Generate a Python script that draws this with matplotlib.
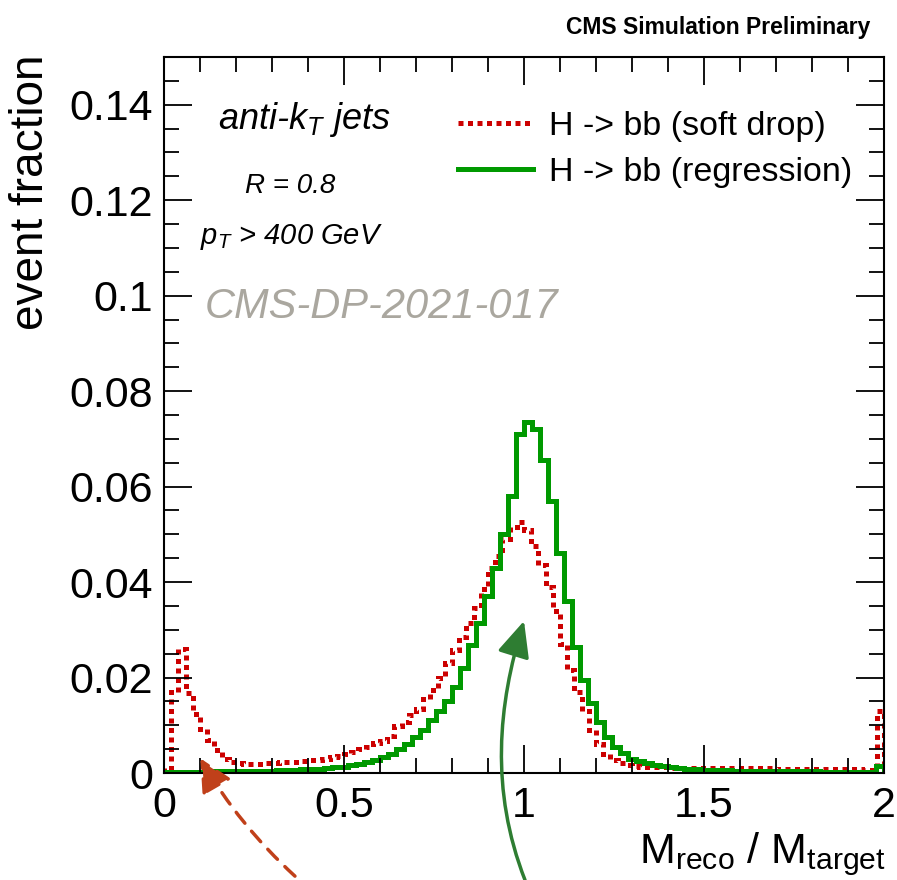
import numpy as np
import matplotlib
matplotlib.use("Agg")
from matplotlib import pyplot as plt
from matplotlib.ticker import MultipleLocator
from matplotlib.patches import FancyArrowPatch
from matplotlib.path import Path

plt.rcParams['font.family'] = ['Liberation Sans', 'DejaVu Sans']
plt.rcParams['mathtext.fontset'] = 'custom'
plt.rcParams['mathtext.rm'] = 'Liberation Sans'
plt.rcParams['mathtext.it'] = 'Liberation Sans:italic'

# soft drop mass, 100 bins over 0..2
sd_edges = np.linspace(0, 2, 101)
sd_frac = [0.0010, 0.0170, 0.0260, 0.0168, 0.0124, 0.0092, 0.0069, 0.0048, 0.0030, 0.0022,
           0.0020, 0.0019, 0.0019, 0.0019, 0.0020, 0.0021, 0.0022, 0.0023, 0.0024, 0.0025,
           0.0027, 0.0028, 0.0030, 0.0033, 0.0036, 0.0040, 0.0045, 0.0050, 0.0055, 0.0062,
           0.0068, 0.0078, 0.0098, 0.0107, 0.0122, 0.0135, 0.0155, 0.0174, 0.0200, 0.0230,
           0.0258, 0.0285, 0.0315, 0.0345, 0.0385, 0.0430, 0.0455, 0.0490, 0.0515, 0.0525,
           0.0510, 0.0475, 0.0435, 0.0390, 0.0340, 0.0270, 0.0215, 0.0170, 0.0130, 0.0090,
           0.0060, 0.0040, 0.0028, 0.0020, 0.0016, 0.0014, 0.0013, 0.0012, 0.0012, 0.0012,
           0.0011, 0.0011, 0.0011, 0.0011, 0.0010, 0.0010, 0.0010, 0.0010, 0.0010, 0.0010,
           0.0010, 0.0010, 0.0010, 0.0010, 0.0010, 0.0009, 0.0009, 0.0009, 0.0009, 0.0009,
           0.0009, 0.0009, 0.0009, 0.0008, 0.0008, 0.0008, 0.0008, 0.0007, 0.0006, 0.0130]

# regression mass, 90 bins over 0..2
reg_edges = np.linspace(0, 2, 91)
reg_frac = [0.0003, 0.0003, 0.0003, 0.0003, 0.0003, 0.0003, 0.0004, 0.0004, 0.0004, 0.0004,
            0.0004, 0.0005, 0.0005, 0.0005, 0.0006, 0.0006, 0.0007, 0.0008, 0.0008, 0.0009,
            0.0010, 0.0012, 0.0013, 0.0016, 0.0019, 0.0023, 0.0028, 0.0033, 0.0040, 0.0050,
            0.0060, 0.0075, 0.0090, 0.0110, 0.0130, 0.0150, 0.0180, 0.0220, 0.0268, 0.0314,
            0.0370, 0.0430, 0.0500, 0.0580, 0.0710, 0.0735, 0.0720, 0.0656, 0.0570, 0.0460,
            0.0360, 0.0265, 0.0195, 0.0147, 0.0107, 0.0075, 0.0055, 0.0042, 0.0030, 0.0025,
            0.0020, 0.0017, 0.0014, 0.0012, 0.0010, 0.0009, 0.0008, 0.0007, 0.0007, 0.0006,
            0.0006, 0.0005, 0.0005, 0.0005, 0.0005, 0.0004, 0.0004, 0.0004, 0.0004, 0.0004,
            0.0004, 0.0004, 0.0003, 0.0003, 0.0003, 0.0003, 0.0003, 0.0003, 0.0003, 0.0015]

x_ticks = [0, 0.5, 1, 1.5, 2]
x_labels = ['0', '0.5', '1', '1.5', '2']
y_ticks = [0, 0.02, 0.04, 0.06, 0.08, 0.1, 0.12, 0.14]
y_labels = ['0', '0.02', '0.04', '0.06', '0.08', '0.1', '0.12', '0.14']

red = '#cc0000'
green = '#009900'

W, H = 897, 880
fig = plt.figure(figsize=(W / 100, H / 100), dpi=100)
ax = fig.add_axes([164 / W, 1 - 773 / H, 720 / W, 716 / H])

ax.stairs(sd_frac, sd_edges, color=red, lw=3.6, ls=(0, (1.0, 0.9)), label='H -> bb (soft drop)')
ax.stairs(reg_frac, reg_edges, color=green, lw=3.6, label='H -> bb (regression)')

ax.set_xlim(0, 2)
ax.set_ylim(0, 0.15)
ax.set_xticks(x_ticks)
ax.set_xticklabels(x_labels)
ax.set_yticks(y_ticks)
ax.set_yticklabels(y_labels)
ax.xaxis.set_minor_locator(MultipleLocator(0.1))
ax.yaxis.set_minor_locator(MultipleLocator(0.005))
ax.tick_params(which='both', direction='in', top=True, right=True, width=1.3, labelsize=31)
ax.tick_params(which='major', length=20)
ax.tick_params(which='minor', length=11)
ax.tick_params(axis='x', pad=9)
ax.tick_params(axis='y', pad=8)
for s in ax.spines.values():
    s.set_linewidth(1.5)

fig.text(0.035, 0.938, 'event fraction', rotation=90, ha='center', va='top', fontsize=33)
fig.text(0.987, 0.002, r'M$_{\rm reco}$ / M$_{\rm target}$', ha='right', va='bottom', fontsize=31)
fig.text(0.97, 0.969, 'CMS Simulation Preliminary', ha='right', va='center', fontsize=16.5, fontweight='bold')

ax.text(0.075, 0.913, r'anti-k$_{T}$ jets', transform=ax.transAxes, fontsize=26, style='italic', va='center')
ax.text(0.112, 0.82, 'R = 0.8', transform=ax.transAxes, fontsize=20, style='italic', va='center')
ax.text(0.05, 0.748, r'p$_{T}$ > 400 GeV', transform=ax.transAxes, fontsize=21, style='italic', va='center')
ax.text(0.056, 0.651, 'CMS-DP-2021-017', transform=ax.transAxes, fontsize=30, style='italic',
        color='#aaa79f', va='center')

leg = ax.legend(loc='upper left', bbox_to_anchor=(0.39, 0.944), frameon=False, fontsize=24.5,
                handlelength=2.2, handletextpad=0.45, labelspacing=0.45, borderaxespad=0)


def fig_xy(px, py):
    return (px / W, 1 - py / H)


# hand drawn arrows on top of the plot
a1 = FancyArrowPatch(fig_xy(297, 878), fig_xy(199, 756), transform=fig.transFigure,
                     connectionstyle='arc3,rad=-0.08', arrowstyle='-|>,head_length=20,head_width=10',
                     color='#c0401a', lw=2.5, ls=(0, (4, 3)), mutation_scale=1)
green_path = Path([fig_xy(525, 880), fig_xy(490, 790), fig_xy(498, 705), fig_xy(524, 621)],
                  [Path.MOVETO, Path.CURVE4, Path.CURVE4, Path.CURVE4])
a2 = FancyArrowPatch(path=green_path, transform=fig.transFigure,
                     arrowstyle='-|>,head_length=22,head_width=10',
                     color='#2e7d32', lw=2.5, mutation_scale=1)
fig.patches.extend([a1, a2])

fig.savefig('out.png', dpi=100)
